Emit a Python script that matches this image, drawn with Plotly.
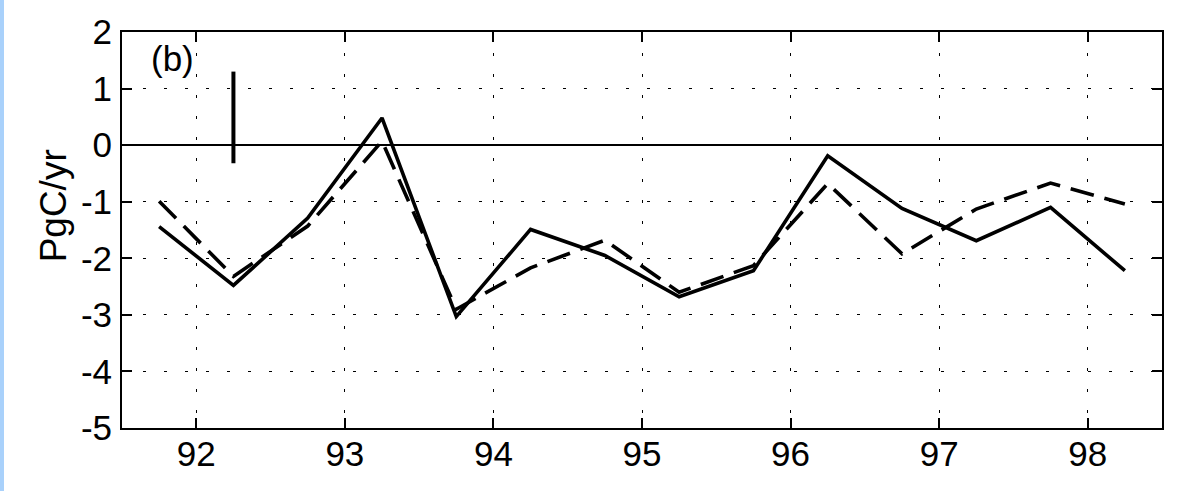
import plotly.graph_objects as go

years = [91.75, 92.25, 92.75, 93.25, 93.75, 94.25, 94.75,
         95.25, 95.75, 96.25, 96.75, 97.25, 97.75, 98.25]
solid_vals = [-1.44, -2.48, -1.29, 0.48, -3.03, -1.49, -1.95,
              -2.68, -2.22, -0.19, -1.12, -1.69, -1.10, -2.22]
dashed_vals = [-0.99, -2.32, -1.43, 0.07, -2.90, -2.17, -1.68,
               -2.60, -2.13, -0.68, -1.92, -1.13, -0.67, -1.04]
errbar_x = [92.25, 92.25]
errbar_y = [1.30, -0.32]

x_ticks = [92, 93, 94, 95, 96, 97, 98]
x_ticktext = ["92", "93", "94", "95", "96", "97", "98"]
y_ticks = [-5, -4, -3, -2, -1, 0, 1, 2]
y_ticktext = ["-5", "-4", "-3", "-2", "-1", "0", "1", "2"]

FONT = "Liberation Sans, Arial, Helvetica, sans-serif"
TS = 35

fig = go.Figure()
fig.add_trace(go.Scatter(x=years, y=dashed_vals, mode="lines",
                         line=dict(color="black", width=3.6, dash="24px,11px"),
                         showlegend=False))
fig.add_trace(go.Scatter(x=years, y=solid_vals, mode="lines",
                         line=dict(color="black", width=3.6),
                         showlegend=False))
fig.add_trace(go.Scatter(x=errbar_x, y=errbar_y, mode="lines",
                         line=dict(color="black", width=4),
                         showlegend=False))

L, R, T, B = 122, 32, 26, 63
W, H = 1194, 491
pw, ph = W - L - R, H - T - B

axis_common = dict(
    showline=True, linecolor="black", linewidth=2, mirror="ticks",
    ticks="inside", ticklen=10, tickwidth=2, tickcolor="black",
    showgrid=True, gridcolor="black", gridwidth=1, griddash="3px,18px",
    tickfont=dict(family=FONT, size=TS, color="black"),
)

fig.update_xaxes(range=[91.5, 98.5], tickvals=x_ticks, ticktext=x_ticktext,
                 zeroline=False, ticklabelstandoff=-6, **axis_common)
fig.update_yaxes(range=[-5, 2], tickvals=y_ticks, ticktext=y_ticktext,
                 zeroline=True, zerolinecolor="black", zerolinewidth=1.5,
                 ticklabelstandoff=1, **axis_common)

fig.add_annotation(text="PgC/yr", xref="paper", yref="paper",
                   x=(53 - L) / pw, y=(H - B - 203) / ph, textangle=-90,
                   showarrow=False, xanchor="center", yanchor="middle",
                   font=dict(family=FONT, size=37, color="black"))
fig.add_annotation(text="(b)", xref="x", yref="y", x=91.84, y=1.53,
                   showarrow=False, xanchor="center", yanchor="middle",
                   font=dict(family=FONT, size=TS, color="black"))

fig.add_shape(type="rect", xref="paper", yref="paper",
              x0=-L / pw, x1=(4 - L) / pw, y0=-B / ph - 0.05, y1=1 + T / ph + 0.05,
              fillcolor="#A9D1FB", line=dict(width=0), layer="below")

fig.update_layout(width=W, height=H, margin=dict(l=L, r=R, t=T, b=B),
                  paper_bgcolor="white", plot_bgcolor="white",
                  showlegend=False)

fig.write_html("out.html")
